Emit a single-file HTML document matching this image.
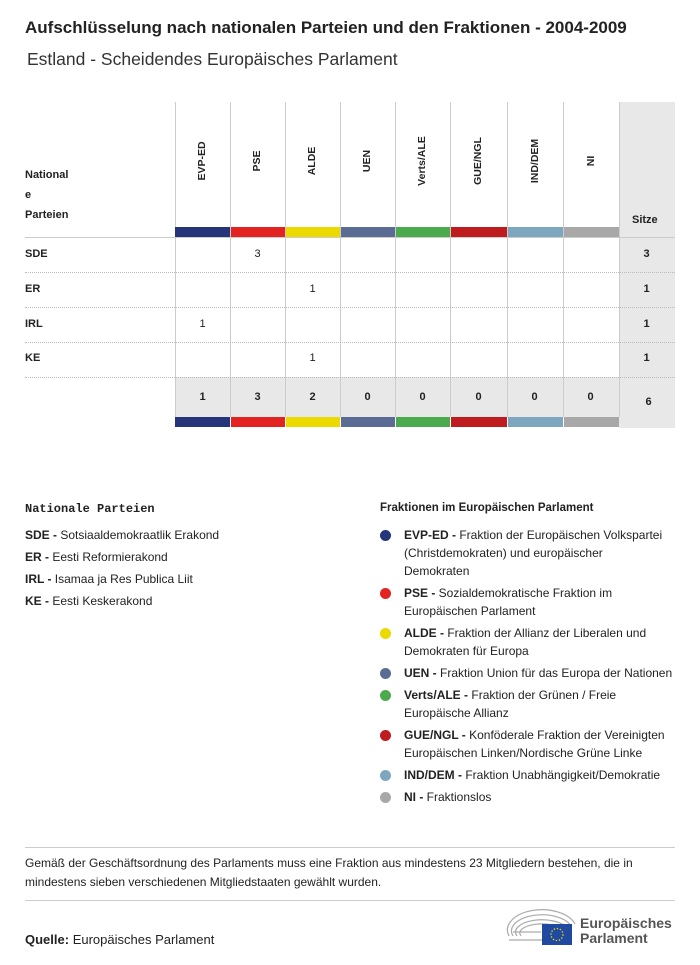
<!DOCTYPE html>
<html><head><meta charset="utf-8"><style>
*{margin:0;padding:0;box-sizing:border-box}
body{width:700px;height:965px;background:#fff;font-family:"Liberation Sans",sans-serif;color:#222;position:relative;overflow:hidden}
.a{position:absolute;white-space:nowrap}
.vl{position:absolute;width:1px;background:#ccc}
.hd{position:absolute;font-size:10.5px;font-weight:bold;transform:rotate(-90deg);transform-origin:center;width:80px;text-align:center}
.c{position:absolute;font-size:11px;text-align:center;width:55px}
.b{font-weight:bold}
.dot{position:absolute;width:11px;height:11px;border-radius:50%}
.lg{position:absolute;left:404px;font-size:12px;line-height:18px;white-space:nowrap}
</style></head><body>
<div class="a b" style="left:25px;top:18px;font-size:17px">Aufschlüsselung nach nationalen Parteien und den Fraktionen - 2004-2009</div>
<div class="a" style="left:27px;top:49px;font-size:17.5px;color:#333">Estland - Scheidendes Europäisches Parlament</div>

<div class="a" style="left:619px;top:102px;width:56px;height:326px;background:#e8e8e8"></div>
<div class="a" style="left:175px;top:377px;width:444px;height:40px;background:#e8e8e8"></div>

<div class="vl" style="left:175px;top:102px;height:315px"></div>
<div class="vl" style="left:230px;top:102px;height:315px"></div>
<div class="vl" style="left:285px;top:102px;height:315px"></div>
<div class="vl" style="left:340px;top:102px;height:315px"></div>
<div class="vl" style="left:395px;top:102px;height:315px"></div>
<div class="vl" style="left:450px;top:102px;height:315px"></div>
<div class="vl" style="left:507px;top:102px;height:315px"></div>
<div class="vl" style="left:563px;top:102px;height:315px"></div>
<div class="vl" style="left:619px;top:102px;height:315px"></div>

<div class="a" style="left:25px;top:237px;width:650px;border-top:1px solid #ccc"></div>
<div class="a" style="left:25px;top:272px;width:650px;border-top:1px dotted #bbb"></div>
<div class="a" style="left:25px;top:307px;width:650px;border-top:1px dotted #bbb"></div>
<div class="a" style="left:25px;top:342px;width:650px;border-top:1px dotted #bbb"></div>
<div class="a" style="left:25px;top:377px;width:650px;border-top:1px dotted #bbb"></div>

<div class="hd" style="left:162px;top:155px">EVP-ED</div>
<div class="hd" style="left:217px;top:155px">PSE</div>
<div class="hd" style="left:272px;top:155px">ALDE</div>
<div class="hd" style="left:327px;top:155px">UEN</div>
<div class="hd" style="left:382px;top:155px">Verts/ALE</div>
<div class="hd" style="left:438px;top:155px">GUE/NGL</div>
<div class="hd" style="left:495px;top:155px">IND/DEM</div>
<div class="hd" style="left:551px;top:155px">NI</div>
<div class="a b" style="left:25px;top:165px;font-size:11px;line-height:20px">National<br>e<br>Parteien</div>
<div class="a b" style="left:632px;top:214px;font-size:11px">Sitze</div>

<div class="a b" style="left:25px;top:248px;font-size:11px">SDE</div>
<div class="a b" style="left:25px;top:283px;font-size:11px">ER</div>
<div class="a b" style="left:25px;top:318px;font-size:11px">IRL</div>
<div class="a b" style="left:25px;top:352px;font-size:11px">KE</div>
<div class="c" style="left:230px;top:248px">3</div>
<div class="c" style="left:285px;top:283px">1</div>
<div class="c" style="left:175px;top:318px">1</div>
<div class="c" style="left:285px;top:352px">1</div>
<div class="c b" style="left:619px;top:248px">3</div>
<div class="c b" style="left:619px;top:283px">1</div>
<div class="c b" style="left:619px;top:318px">1</div>
<div class="c b" style="left:619px;top:352px">1</div>
<div class="c b" style="left:175px;top:391px">1</div>
<div class="c b" style="left:230px;top:391px">3</div>
<div class="c b" style="left:285px;top:391px">2</div>
<div class="c b" style="left:340px;top:391px">0</div>
<div class="c b" style="left:395px;top:391px">0</div>
<div class="c b" style="left:451px;top:391px">0</div>
<div class="c b" style="left:507px;top:391px">0</div>
<div class="c b" style="left:563px;top:391px">0</div>
<div class="c b" style="left:621px;top:396px">6</div>

<div class="a" style="left:175px;top:227px;width:55px;height:10px;background:#26357a"></div>
<div class="a" style="left:231px;top:227px;width:54px;height:10px;background:#e32322"></div>
<div class="a" style="left:286px;top:227px;width:54px;height:10px;background:#ecd900"></div>
<div class="a" style="left:341px;top:227px;width:54px;height:10px;background:#5a6c93"></div>
<div class="a" style="left:396px;top:227px;width:54px;height:10px;background:#4caa4e"></div>
<div class="a" style="left:451px;top:227px;width:56px;height:10px;background:#be1c1e"></div>
<div class="a" style="left:508px;top:227px;width:55px;height:10px;background:#7fa6bf"></div>
<div class="a" style="left:564px;top:227px;width:55px;height:10px;background:#a8a8a8"></div>
<div class="a" style="left:175px;top:417px;width:55px;height:10px;background:#26357a"></div>
<div class="a" style="left:231px;top:417px;width:54px;height:10px;background:#e32322"></div>
<div class="a" style="left:286px;top:417px;width:54px;height:10px;background:#ecd900"></div>
<div class="a" style="left:341px;top:417px;width:54px;height:10px;background:#5a6c93"></div>
<div class="a" style="left:396px;top:417px;width:54px;height:10px;background:#4caa4e"></div>
<div class="a" style="left:451px;top:417px;width:56px;height:10px;background:#be1c1e"></div>
<div class="a" style="left:508px;top:417px;width:55px;height:10px;background:#7fa6bf"></div>
<div class="a" style="left:564px;top:417px;width:55px;height:10px;background:#a8a8a8"></div>

<div class="a b" style="left:25px;top:502px;font-size:12px;font-family:'Liberation Mono',monospace">Nationale Parteien</div>
<div class="a" style="left:25px;top:528px;font-size:12px"><b>SDE -</b> Sotsiaaldemokraatlik Erakond</div>
<div class="a" style="left:25px;top:550px;font-size:12px"><b>ER -</b> Eesti Reformierakond</div>
<div class="a" style="left:25px;top:572px;font-size:12px"><b>IRL -</b> Isamaa ja Res Publica Liit</div>
<div class="a" style="left:25px;top:594px;font-size:12px"><b>KE -</b> Eesti Keskerakond</div>

<div class="a b" style="left:380px;top:502px;font-size:11.5px">Fraktionen im Europäischen Parlament</div>
<div class="dot" style="left:380px;top:530px;background:#26357a"></div>
<div class="lg" style="top:526px"><b>EVP-ED -</b> Fraktion der Europäischen Volkspartei<br>(Christdemokraten) und europäischer<br>Demokraten</div>
<div class="dot" style="left:380px;top:588px;background:#e32322"></div>
<div class="lg" style="top:584px"><b>PSE -</b> Sozialdemokratische Fraktion im<br>Europäischen Parlament</div>
<div class="dot" style="left:380px;top:628px;background:#ecd900"></div>
<div class="lg" style="top:624px"><b>ALDE -</b> Fraktion der Allianz der Liberalen und<br>Demokraten für Europa</div>
<div class="dot" style="left:380px;top:668px;background:#5a6c93"></div>
<div class="lg" style="top:664px"><b>UEN -</b> Fraktion Union für das Europa der Nationen</div>
<div class="dot" style="left:380px;top:690px;background:#4caa4e"></div>
<div class="lg" style="top:686px"><b>Verts/ALE -</b> Fraktion der Grünen / Freie<br>Europäische Allianz</div>
<div class="dot" style="left:380px;top:730px;background:#be1c1e"></div>
<div class="lg" style="top:726px"><b>GUE/NGL -</b> Konföderale Fraktion der Vereinigten<br>Europäischen Linken/Nordische Grüne Linke</div>
<div class="dot" style="left:380px;top:770px;background:#7fa6bf"></div>
<div class="lg" style="top:766px"><b>IND/DEM -</b> Fraktion Unabhängigkeit/Demokratie</div>
<div class="dot" style="left:380px;top:792px;background:#a8a8a8"></div>
<div class="lg" style="top:788px"><b>NI -</b> Fraktionslos</div>

<div class="a" style="left:25px;top:847px;width:650px;border-top:1px solid #ccc"></div>
<div class="a" style="left:25px;top:854px;font-size:12px;line-height:19px">Gemäß der Geschäftsordnung des Parlaments muss eine Fraktion aus mindestens 23 Mitgliedern bestehen, die in<br>mindestens sieben verschiedenen Mitgliedstaaten gewählt wurden.</div>
<div class="a" style="left:25px;top:900px;width:650px;border-top:1px solid #ccc"></div>
<div class="a" style="left:25px;top:932px;font-size:13px"><b>Quelle:</b> Europäisches Parlament</div>

<svg class="a" style="left:505px;top:908px" width="75" height="40" viewBox="0 0 75 40">
<g fill="none" stroke="#aaa" stroke-width="1.2">
<path d="M4 28 A34 20 0 0 1 70 16"/><path d="M8 28 A30 16 0 0 1 66 18"/><path d="M12 28 A26 12 0 0 1 62 20"/><path d="M16 28 A22 9 0 0 1 58 22"/><path d="M4 32 H38"/><path d="M8 24 H36"/>
</g>
<rect x="37" y="16" width="30" height="21" fill="#1f4aa0"/>
<circle cx="52" cy="26.5" r="6" fill="none" stroke="#ffdd00" stroke-width="1.3" stroke-dasharray="1.3 1.8"/>
</svg>
<div class="a b" style="left:580px;top:916px;font-size:14px;line-height:15px;color:#555">Europäisches<br>Parlament</div>
</body></html>
